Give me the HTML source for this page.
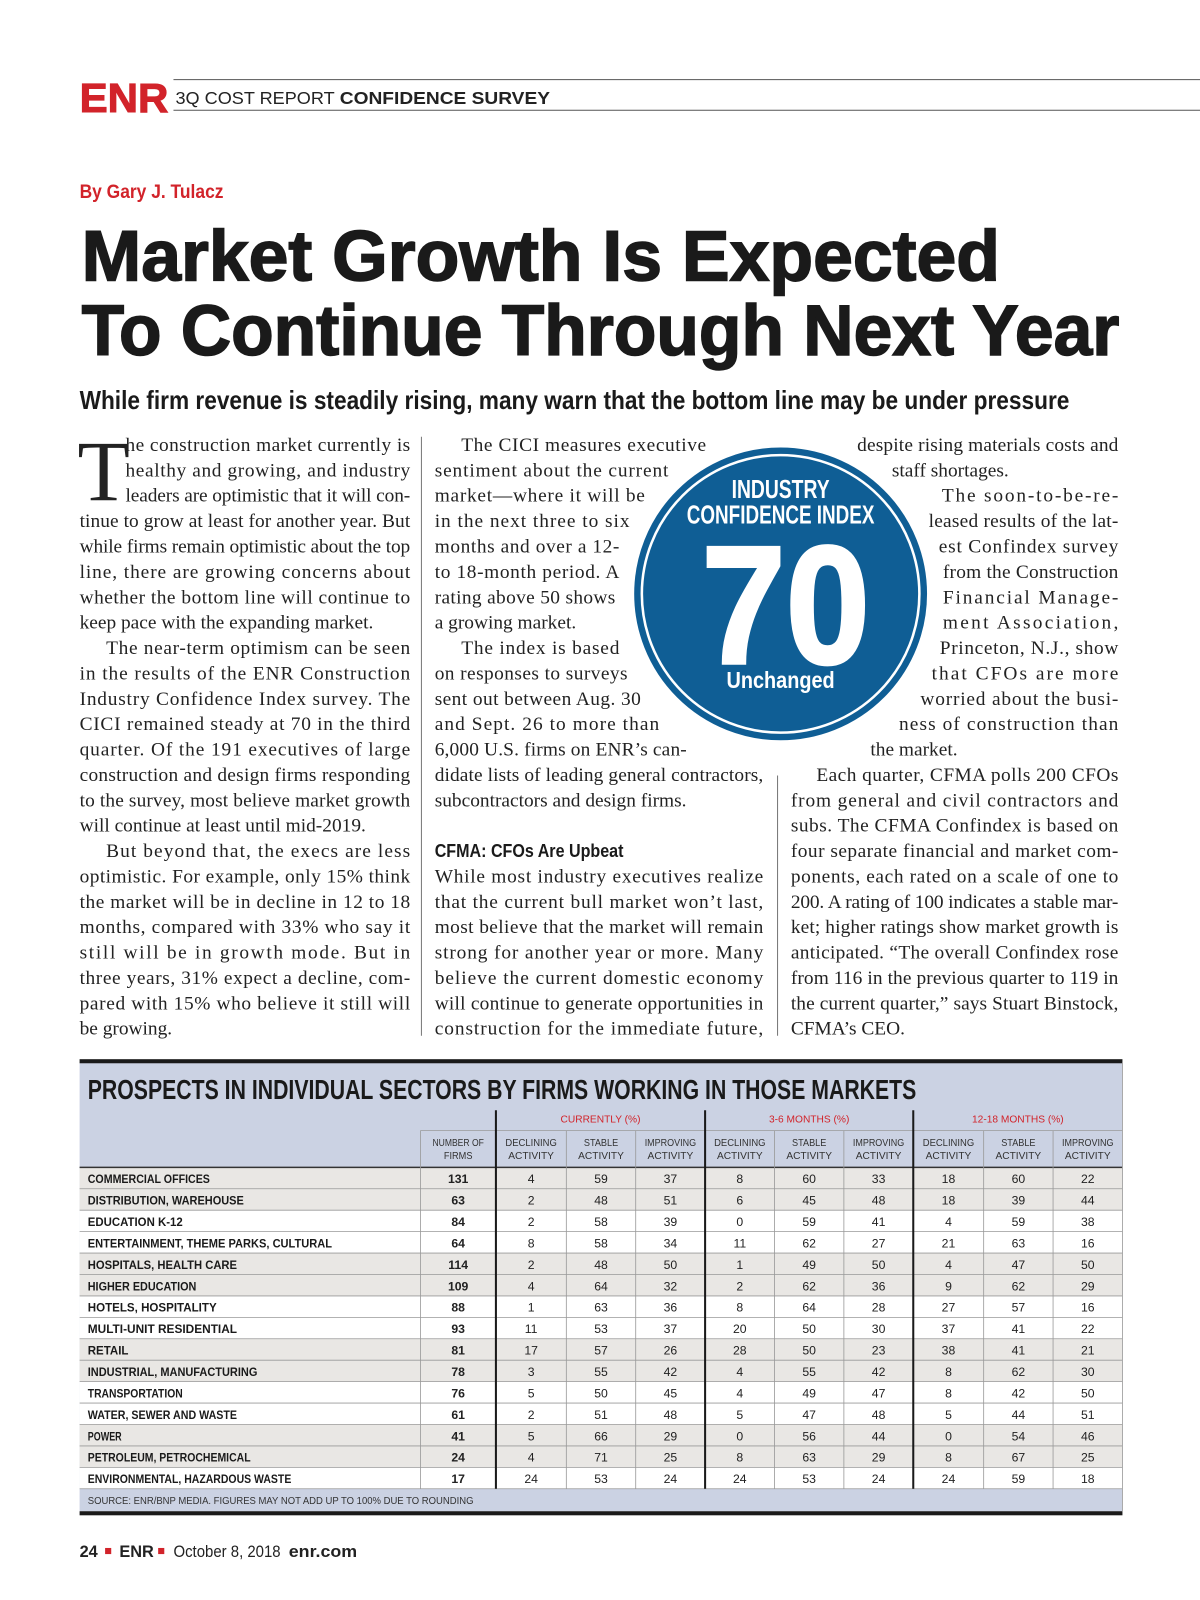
<!DOCTYPE html>
<html><head><meta charset="utf-8"><style>
html,body{margin:0;padding:0;background:#fff;width:1200px;height:1600px;overflow:hidden}
svg{display:block}
.serif{font-family:"Liberation Serif",serif;font-size:19px;fill:#222}
.sans{font-family:"Liberation Sans",sans-serif}
</style></head><body>
<svg id="page" xmlns="http://www.w3.org/2000/svg" width="1200" height="1600" viewBox="0 0 1176 1568">
<g>
<line x1="170" y1="78" x2="1176" y2="78" stroke="#555" stroke-width="1"/>
<line x1="170" y1="108" x2="1176" y2="108" stroke="#555" stroke-width="1"/>
<text x="78" y="110" class="sans" font-size="40" font-weight="bold" fill="#d2232a" textLength="87" lengthAdjust="spacingAndGlyphs" stroke="#d2232a" stroke-width="1">ENR</text>
<text x="172" y="102" class="sans" font-size="17" fill="#222"><tspan textLength="156" lengthAdjust="spacingAndGlyphs">3Q COST REPORT</tspan> <tspan font-weight="bold" x="333" textLength="206" lengthAdjust="spacingAndGlyphs">CONFIDENCE SURVEY</tspan></text>
</g>
<text x="78" y="194" class="sans" font-size="19" font-weight="bold" fill="#d2232a" textLength="141" lengthAdjust="spacingAndGlyphs">By Gary J. Tulacz</text>
<g class="sans" font-weight="bold" fill="#1a1a1a" stroke="#1a1a1a" stroke-width="1.5">
<text x="80" y="275" font-size="70" textLength="900" lengthAdjust="spacingAndGlyphs">Market Growth Is Expected</text>
<text x="80" y="348" font-size="70" textLength="1017" lengthAdjust="spacingAndGlyphs">To Continue Through Next Year</text>
</g>
<text x="78" y="401" class="sans" font-size="25" font-weight="bold" fill="#1a1a1a" textLength="970" lengthAdjust="spacingAndGlyphs">While firm revenue is steadily rising, many warn that the bottom line may be under pressure</text>
<text x="76" y="490" style="font-family:'Liberation Serif',serif;font-size:84px;fill:#222">T</text>
<line x1="413" y1="428" x2="413" y2="1015" stroke="#777" stroke-width="1"/>
<line x1="762" y1="760" x2="762" y2="1015" stroke="#777" stroke-width="1"/>
<g id="body"></g>
<text x="426" y="840" class="sans" font-size="18" font-weight="bold" fill="#1a1a1a" textLength="185" lengthAdjust="spacingAndGlyphs">CFMA: CFOs Are Upbeat</text>
<g>
<circle cx="765" cy="582" r="145" fill="#0f5e95" stroke="#fff" stroke-width="3"/>
<circle cx="765" cy="582" r="136" fill="none" stroke="#fff" stroke-width="2.5"/>
<text x="765" y="488" text-anchor="middle" class="sans" font-size="25" font-weight="bold" fill="#fff" textLength="96" lengthAdjust="spacingAndGlyphs">INDUSTRY</text>
<text x="765" y="513" text-anchor="middle" class="sans" font-size="25" font-weight="bold" fill="#fff" textLength="184" lengthAdjust="spacingAndGlyphs">CONFIDENCE INDEX</text>
<text x="770" y="650" text-anchor="middle" class="sans" font-size="165" font-weight="bold" fill="#fff" stroke="#fff" stroke-width="3" textLength="165" lengthAdjust="spacingAndGlyphs">70</text>
<text x="765" y="674" text-anchor="middle" class="sans" font-size="23" font-weight="bold" fill="#fff" textLength="106" lengthAdjust="spacingAndGlyphs">Unchanged</text>
</g>
<g id="table"></g>
<g class="sans" font-size="16" fill="#222">
<text x="78" y="1526" font-weight="bold">24</text>
<rect x="103" y="1517" width="6" height="6" fill="#d2232a"/>
<text x="117" y="1526" font-weight="bold">ENR</text>
<rect x="155" y="1517" width="6" height="6" fill="#d2232a"/>
<text x="170" y="1526" textLength="105" lengthAdjust="spacingAndGlyphs">October 8, 2018</text>
<text x="283" y="1526" font-weight="bold" textLength="67" lengthAdjust="spacingAndGlyphs">enr.com</text>
</g>
</svg>
<script>
const NS="http://www.w3.org/2000/svg";
// body lines: [x, rightEdge, text, justified]
const col1=[[123,402,"he construction market currently is",1],[123,402,"healthy and growing, and industry",1],[123,402,"leaders are optimistic that it will con-",1],[78,402,"tinue to grow at least for another year. But",1],[78,402,"while firms remain optimistic about the top",1],[78,402,"line, there are growing concerns about",1],[78,402,"whether the bottom line will continue to",1],[78,402,"keep pace with the expanding market.",0],[104,402,"The near-term optimism can be seen",1],[78,402,"in the results of the ENR Construction",1],[78,402,"Industry Confidence Index survey. The",1],[78,402,"CICI remained steady at 70 in the third",1],[78,402,"quarter. Of the 191 executives of large",1],[78,402,"construction and design firms responding",1],[78,402,"to the survey, most believe market growth",1],[78,402,"will continue at least until mid-2019.",0],[104,402,"But beyond that, the execs are less",1],[78,402,"optimistic. For example, only 15% think",1],[78,402,"the market will be in decline in 12 to 18",1],[78,402,"months, compared with 33% who say it",1],[78,402,"still will be in growth mode. But in",1],[78,402,"three years, 31% expect a decline, com-",1],[78,402,"pared with 15% who believe it still will",1],[78,402,"be growing.",0]];
const col2=[[452,692,"The CICI measures executive",1],[426,655,"sentiment about the current",1],[426,632,"market\u2014where it will be",1],[426,617,"in the next three to six",1],[426,607,"months and over a 12-",1],[426,607,"to 18-month period. A",1],[426,603,"rating above 50 shows",1],[426,570,"a growing market.",0],[452,607,"The index is based",1],[426,615,"on responses to surveys",1],[426,628,"sent out between Aug. 30",1],[426,646,"and Sept. 26 to more than",1],[426,673,"6,000 U.S. firms on ENR\u2019s can-",1],[426,748,"didate lists of leading general contractors,",1],[426,681,"subcontractors and design firms.",0],null,null,[426,748,"While most industry executives realize",1],[426,748,"that the current bull market won\u2019t last,",1],[426,748,"most believe that the market will remain",1],[426,748,"strong for another year or more. Many",1],[426,748,"believe the current domestic economy",1],[426,748,"will continue to generate opportunities in",1],[426,748,"construction for the immediate future,",1]];
const col3=[[840,1096,"despite rising materials costs and",1],[874,992,"staff shortages.",0],[923,1096,"The soon-to-be-re-",1],[910,1096,"leased results of the lat-",1],[920,1096,"est Confindex survey",1],[924,1096,"from the Construction",1],[924,1096,"Financial Manage-",1],[924,1096,"ment Association,",1],[921,1096,"Princeton, N.J., show",1],[913,1096,"that CFOs are more",1],[902,1096,"worried about the busi-",1],[881,1096,"ness of construction than",1],[853,940,"the market.",0],[800,1096,"Each quarter, CFMA polls 200 CFOs",1],[775,1096,"from general and civil contractors and",1],[775,1096,"subs. The CFMA Confindex is based on",1],[775,1096,"four separate financial and market com-",1],[775,1096,"ponents, each rated on a scale of one to",1],[775,1096,"200. A rating of 100 indicates a stable mar-",1],[775,1096,"ket; higher ratings show market growth is",1],[775,1096,"anticipated. \u201cThe overall Confindex rose",1],[775,1096,"from 116 in the previous quarter to 119 in",1],[775,1096,"the current quarter,\u201d says Stuart Binstock,",1],[775,890,"CFMA\u2019s CEO.",0]];
const body=document.getElementById('body');
[col1,col2,col3].forEach((col,ci)=>{col.forEach((l,i)=>{if(!l)return;
const t=document.createElementNS(NS,'text');


t.setAttribute('x',l[0]);t.setAttribute('y',(442+i*24.87).toFixed(1));t.setAttribute('class','serif');
if(l[3]){t.setAttribute('textLength',l[1]-l[0]);t.setAttribute('lengthAdjust','spacing');}
t.textContent=l[2];body.appendChild(t);});});

// table data
const sectors=["COMMERCIAL OFFICES","DISTRIBUTION, WAREHOUSE","EDUCATION K-12","ENTERTAINMENT, THEME PARKS, CULTURAL","HOSPITALS, HEALTH CARE","HIGHER EDUCATION","HOTELS, HOSPITALITY","MULTI-UNIT RESIDENTIAL","RETAIL","INDUSTRIAL, MANUFACTURING","TRANSPORTATION","WATER, SEWER AND WASTE","POWER","PETROLEUM, PETROCHEMICAL","ENVIRONMENTAL, HAZARDOUS WASTE"];
const firms=[131,63,84,64,114,109,88,93,81,78,76,61,41,24,17];
const curDecl=[4,2,2,8,2,4,1,11,17,3,5,2,5,4,24];
const curStab=[59,48,58,58,48,64,63,53,57,55,50,51,66,71,53];
const curImp=[37,51,39,34,50,32,36,37,26,42,45,48,29,25,24];
const m36Decl=[8,6,0,11,1,2,8,20,28,4,4,5,0,8,24];
const m36Stab=[60,45,59,62,49,62,64,50,50,55,49,47,56,63,53];
const m36Imp=[33,48,41,27,50,36,28,30,23,42,47,48,44,29,24];
const m1218Decl=[18,18,4,21,4,9,27,37,38,8,8,5,0,8,24];
const m1218Stab=[60,39,59,63,47,62,57,41,41,62,42,44,54,67,59];
const m1218Imp=[22,44,38,16,50,29,16,22,21,30,50,51,46,25,18];
const groupLabels=["CURRENTLY (%)","3-6 MONTHS (%)","12-18 MONTHS (%)"];
const colHeads=[["NUMBER OF","FIRMS"],["DECLINING","ACTIVITY"],["STABLE","ACTIVITY"],["IMPROVING","ACTIVITY"],["DECLINING","ACTIVITY"],["STABLE","ACTIVITY"],["IMPROVING","ACTIVITY"],["DECLINING","ACTIVITY"],["STABLE","ACTIVITY"],["IMPROVING","ACTIVITY"]];

const tb=document.getElementById('table');
function el(tag,attrs,txt){const e=document.createElementNS(NS,tag);for(const k in attrs)e.setAttribute(k,attrs[k]);if(txt!=null)e.textContent=txt;tb.appendChild(e);return e;}
const L=78,R=1100,colX=[412,486,555,623,691,759,827,895,964,1032,1100];
const y0=1144,rh=21,hTop=1108;
let e;
e=el('rect',{x:L,y:1041,width:R-L,height:440,fill:'#cbd2e3'});

e=el('rect',{x:L,y:1038,width:R-L,height:4,fill:'#1a1a1a'});

e=el('rect',{x:L,y:1481,width:R-L,height:4,fill:'#1a1a1a'});

e=el('text',{x:86,y:1077,'font-family':'Liberation Sans,sans-serif','font-size':27,'font-weight':'bold',fill:'#1a1a1a',textLength:812,lengthAdjust:'spacingAndGlyphs'},"PROSPECTS IN INDIVIDUAL SECTORS BY FIRMS WORKING IN THOSE MARKETS");

groupLabels.forEach((g,i)=>{const cx=(colX[1+i*3]+colX[4+i*3])/2;
const t=el('text',{x:cx,y:1100,'text-anchor':'middle','font-family':'Liberation Sans,sans-serif','font-size':10,fill:'#d2232a'},g);

});
sectors.forEach((s,i)=>{const gray=Math.floor(i/2)%2===0;
const r=el('rect',{x:L,y:y0+i*rh,width:R-L,height:rh,fill:gray?'#e9e7e4':'#ffffff'});

});
colHeads.forEach((h,i)=>{const cx=(colX[i]+colX[i+1])/2;
h.forEach((ln,k)=>{const t=el('text',{x:cx,y:1123+k*13,'text-anchor':'middle','font-family':'Liberation Sans,sans-serif','font-size':10,fill:'#333',textLength:Math.min(ln.length*5.6,58),lengthAdjust:'spacingAndGlyphs'},ln);

});});
for(let i=0;i<=sectors.length;i++){el('line',{x1:L,x2:R,y1:y0+i*rh,y2:y0+i*rh,stroke:'#999','stroke-width':0.8});}
el('line',{x1:L,x2:R,y1:y0,y2:y0,stroke:'#333','stroke-width':1.5});
el('line',{x1:colX[0],x2:R,y1:hTop,y2:hTop,stroke:'#999','stroke-width':0.8});
colX.forEach((x,i)=>{if(i===10)return;const thick=(i===1||i===4||i===7);
el('line',{x1:x,x2:x,y1:thick?1088:hTop,y2:y0+sectors.length*rh,stroke:thick?'#1a1a1a':'#999','stroke-width':thick?2:0.8});});
el('line',{x1:R,x2:R,y1:1041,y2:1481,stroke:'#999','stroke-width':0.8});
const series=[firms,curDecl,curStab,curImp,m36Decl,m36Stab,m36Imp,m1218Decl,m1218Stab,m1218Imp];
sectors.forEach((s,i)=>{const y=y0+i*rh+15.5;
const lab=el('text',{x:86,y:y,'font-family':'Liberation Sans,sans-serif','font-size':12,'font-weight':'bold',fill:'#1a1a1a',textLength:s.length*6.65,lengthAdjust:'spacingAndGlyphs'},s);


series.forEach((arr,j)=>{const cx=(colX[j]+colX[j+1])/2;
const t=el('text',{x:cx,y:y,'text-anchor':'middle','font-family':'Liberation Sans,sans-serif','font-size':12,'font-weight':j===0?'bold':'normal',fill:'#222'},String(arr[i]));

});});
e=el('text',{x:86,y:1474,'font-family':'Liberation Sans,sans-serif','font-size':10,fill:'#333',textLength:378,lengthAdjust:'spacingAndGlyphs'},"SOURCE: ENR/BNP MEDIA. FIGURES MAY NOT ADD UP TO 100% DUE TO ROUNDING");

</script>
</body></html>
